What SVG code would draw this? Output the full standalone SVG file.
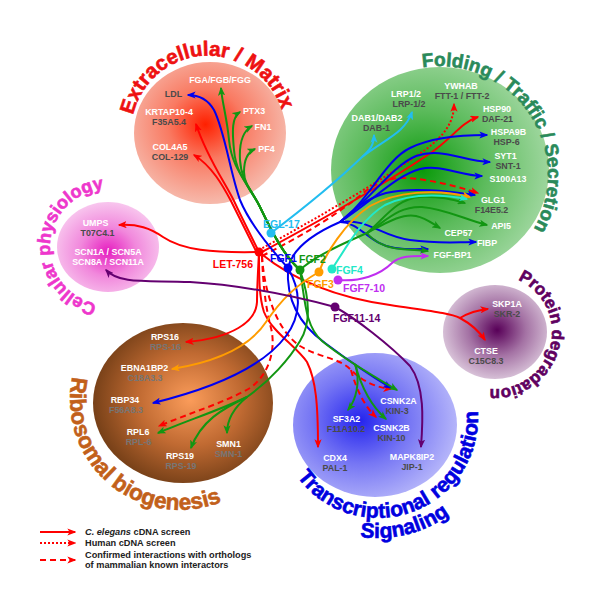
<svg xmlns="http://www.w3.org/2000/svg" width="600" height="600" viewBox="0 0 600 600">
<defs>
<style>
text{font-family:"Liberation Sans",Arial,sans-serif;font-weight:bold}
.t{font-size:8.9px;text-anchor:middle}
.w{fill:#ffffff}
.g{fill:#4a4a4a}
.gb{fill:#767676}
.hub{font-size:10.5px}
.ttl{text-anchor:middle;stroke-width:0.6}
.c{fill:none;stroke-width:2;stroke-linecap:butt}
.r{stroke:#ff0000}
.b{stroke:#0000f0}
.gr{stroke:#129612}
.o{stroke:#ff9c00}
.cy{stroke:#22bdf0}
.tq{stroke:#22e8c8}
.mg{stroke:#c02ef0}
.pu{stroke:#640070}
.dot{stroke-dasharray:2 2}
.dash{stroke-dasharray:6 4}
</style>
<marker id="mR" viewBox="0 0 10 8" refX="8.5" refY="4" markerWidth="9" markerHeight="7.2" orient="auto" markerUnits="userSpaceOnUse"><path d="M0,0L10,4L0,8L2.5,4z" fill="#ff0000"/></marker>
<marker id="mB" viewBox="0 0 10 8" refX="8.5" refY="4" markerWidth="9" markerHeight="7.2" orient="auto" markerUnits="userSpaceOnUse"><path d="M0,0L10,4L0,8L2.5,4z" fill="#0000f0"/></marker>
<marker id="mG" viewBox="0 0 10 8" refX="8.5" refY="4" markerWidth="9" markerHeight="7.2" orient="auto" markerUnits="userSpaceOnUse"><path d="M0,0L10,4L0,8L2.5,4z" fill="#129612"/></marker>
<marker id="mO" viewBox="0 0 10 8" refX="8.5" refY="4" markerWidth="9" markerHeight="7.2" orient="auto" markerUnits="userSpaceOnUse"><path d="M0,0L10,4L0,8L2.5,4z" fill="#ff9c00"/></marker>
<marker id="mC" viewBox="0 0 10 8" refX="8.5" refY="4" markerWidth="9" markerHeight="7.2" orient="auto" markerUnits="userSpaceOnUse"><path d="M0,0L10,4L0,8L2.5,4z" fill="#22bdf0"/></marker>
<marker id="mT" viewBox="0 0 10 8" refX="8.5" refY="4" markerWidth="9" markerHeight="7.2" orient="auto" markerUnits="userSpaceOnUse"><path d="M0,0L10,4L0,8L2.5,4z" fill="#22e8c8"/></marker>
<marker id="mM" viewBox="0 0 10 8" refX="8.5" refY="4" markerWidth="9" markerHeight="7.2" orient="auto" markerUnits="userSpaceOnUse"><path d="M0,0L10,4L0,8L2.5,4z" fill="#c02ef0"/></marker>
<marker id="mP" viewBox="0 0 10 8" refX="8.5" refY="4" markerWidth="9" markerHeight="7.2" orient="auto" markerUnits="userSpaceOnUse"><path d="M0,0L10,4L0,8L2.5,4z" fill="#640070"/></marker>
<radialGradient id="gEx" cx="0.47" cy="0.44" r="0.55"><stop offset="0" stop-color="#ff2000"/><stop offset="0.45" stop-color="#f97a62"/><stop offset="1" stop-color="#f6b8aa"/></radialGradient>
<radialGradient id="gFo" cx="0.42" cy="0.5" r="0.58"><stop offset="0" stop-color="#0a9a0a"/><stop offset="0.5" stop-color="#5cbb5c"/><stop offset="1" stop-color="#9dd69d"/></radialGradient>
<radialGradient id="gCe" cx="0.5" cy="0.55" r="0.55"><stop offset="0" stop-color="#e61ec0"/><stop offset="0.5" stop-color="#f188dc"/><stop offset="1" stop-color="#f8c6ee"/></radialGradient>
<radialGradient id="gRi" cx="0.54" cy="0.48" r="0.58"><stop offset="0" stop-color="#fb9c5a"/><stop offset="0.5" stop-color="#c06a32"/><stop offset="1" stop-color="#6c3a14"/></radialGradient>
<radialGradient id="gTr" cx="0.41" cy="0.47" r="0.6"><stop offset="0" stop-color="#2424ee"/><stop offset="0.5" stop-color="#7676f4"/><stop offset="1" stop-color="#b6b6fa"/></radialGradient>
<radialGradient id="gPr" cx="0.52" cy="0.48" r="0.55"><stop offset="0" stop-color="#580058"/><stop offset="0.5" stop-color="#a472a4"/><stop offset="1" stop-color="#dcc8dc"/></radialGradient>
<path id="pEx" d="M131.05,134.69 A77,77 0 0 1 284.95,129.31"/>
<path id="pFo" d="M369.7,90.9 A109,109 0 1 1 492.7,269.9"/>
<path id="pCe" d="M104.5,304.9 A58,58 0 0 1 111.5,189.1"/>
<path id="pPr" d="M509.3,276.8 A57,57 0 0 1 480.7,387.2"/>
<path id="pRi" d="M102.2,322.2 A110,110 0 1 0 270.1,463.1"/>
<path id="pTr" d="M279.5,435.4 A100,100 0 1 0 464.6,368"/>
<path id="pSi" d="M258.3,426.4 A120,120 0 1 0 487.6,369.2"/>
</defs>
<rect width="600" height="600" fill="#ffffff"/>

<g id="cat-extracellular">
<ellipse cx="210" cy="133" rx="76" ry="71" fill="url(#gEx)"/>
<text class="ttl" font-size="20.5" fill="#ee1111" stroke="#ee1111"><textPath href="#pEx" startOffset="50%">Extracellular / Matrix</textPath></text>
</g>
<g id="cat-folding">
<ellipse cx="440" cy="170" rx="109" ry="103" fill="url(#gFo)"/>
<text class="ttl" font-size="19" fill="#2a8a5a" stroke="#2a8a5a"><textPath href="#pFo" startOffset="50%">Folding / Traffic / Secretion</textPath></text>
</g>
<g id="cat-cellular">
<ellipse cx="108" cy="247" rx="51" ry="45" fill="url(#gCe)"/>
<text class="ttl" font-size="18" fill="#ee36cc" stroke="#ee36cc"><textPath href="#pCe" startOffset="50%">Cellular physiology</textPath></text>
</g>
<g id="cat-protein">
<ellipse cx="495" cy="332" rx="52" ry="47" fill="url(#gPr)"/>
<text class="ttl" font-size="17" fill="#600060" stroke="#600060"><textPath href="#pPr" startOffset="50%">Protein degradation</textPath></text>
</g>
<g id="cat-ribosomal">
<ellipse cx="183" cy="403" rx="90" ry="80" fill="url(#gRi)"/>
<text class="ttl" font-size="22.5" fill="#c2601a" stroke="#c2601a"><textPath href="#pRi" startOffset="50%">Ribosomal biogenesis</textPath></text>
</g>
<g id="cat-transcriptional">
<ellipse cx="375" cy="425" rx="82" ry="72" fill="url(#gTr)"/>
<text class="ttl" font-size="21" fill="#0000e0" stroke="#0000e0"><textPath href="#pTr" startOffset="50%">Transcriptional regulation</textPath></text>
<text class="ttl" font-size="21" fill="#0000e0" stroke="#0000e0"><textPath href="#pSi" startOffset="50%">Signaling</textPath></text>
</g>

<g id="connectors" class="c">
<!-- LET-756 -->
<path class="r" d="M259,252 C212,253 182,250 163,237 C150,228 138,224 119,225" marker-end="url(#mR)"/>
<path class="r" d="M259,252 C250,234 241,216 234,201 C226,184 207,158 196,124" marker-end="url(#mR)"/>
<path class="r" d="M257,253 C248,235 239,217 231,201 C223,186 212,166 194,155" marker-end="url(#mR)"/>
<path class="r dot" d="M259,250 C310,222 380,182 425,150 C445,135 454,122 454,104" marker-end="url(#mR)"/>
<path class="r" d="M260,253 C312,225 388,182 432,152 C452,138 462,122 478,117" marker-end="url(#mR)"/>
<path class="r dash" d="M262,256 C302,236 338,214 362,194 C376,182 392,177 408,178 C432,180 456,186 478,193" marker-end="url(#mR)"/>
<path class="r" d="M259,252 C258,272 257,288 257,302 C256,322 232,338 186,342" marker-end="url(#mR)"/>
<path class="r" d="M259,252 C259,277 259,297 264,312 C272,332 296,346 307,362 C316,380 318,405 318,447" marker-end="url(#mR)"/>
<path class="r dash" d="M262,256 C263,282 265,305 271,328 C276,348 270,374 250,388 C226,402 190,413 159,426" marker-end="url(#mR)"/>
<path class="r dash" d="M262,256 C264,290 276,330 300,346 C320,358 340,358 351,370 C363,382 378,388 391,389" marker-end="url(#mR)"/>
<path class="r dash" d="M351,370 C357,392 366,408 376,417" marker-end="url(#mR)"/>
<path class="r" d="M259,252 C290,278 332,297 390,305 C430,311 450,313 460,318 C470,312 478,310 488,309" marker-end="url(#mR)"/>
<path class="r" d="M460,318 C471,324 479,331 485,340" marker-end="url(#mR)"/>
<!-- EGL-17 -->
<path class="cy" d="M271,233 C300,211 335,183 362,157 C370,150 374,145 374,135" marker-end="url(#mC)"/>
<path class="cy" d="M362,157 C385,139 405,133 412,112" marker-end="url(#mC)"/>
<!-- FGF1 -->
<path class="b" d="M288,268 C268,246 249,222 240,200 C230,172 225,132 214,110 C207,98 198,95 188,95" marker-end="url(#mB)"/>
<path class="b" d="M288,268 C292,250 310,235 340,222 C368,202 385,160 410,148 C430,138 455,135 487,135" marker-end="url(#mB)"/>
<path class="b" d="M340,222 C372,198 392,166 416,156 C442,147 462,161 490,162" marker-end="url(#mB)"/>
<path class="b" d="M340,222 C374,200 395,176 420,169 C442,164 460,176 482,176" marker-end="url(#mB)"/>
<path class="b" d="M340,222 C355,208 368,198 386,193 C412,187 446,191 475,195" marker-end="url(#mB)"/>
<path class="b" d="M340,222 C368,218 380,236 410,240 C440,244 455,242 476,242" marker-end="url(#mB)"/>
<path class="b" d="M340,222 C360,222 370,245 395,248 C410,250 418,249 428,249" marker-end="url(#mB)"/>
<path class="b" d="M288,268 C302,292 301,316 286,336 C266,363 222,386 153,403" marker-end="url(#mB)"/>
<path class="b" d="M288,268 C286,300 300,325 325,343 C345,358 366,373 391,388" marker-end="url(#mB)"/>
<!-- FGF2 -->
<path class="gr" d="M300,270 C284,256 272,232 260,207 C248,182 232,170 229,140 C227,118 222,102 221,88" marker-end="url(#mG)"/>
<path class="gr" d="M300,270 C284,256 272,232 260,207 C250,187 236,175 234,150 C232,130 232,117 240,112" marker-end="url(#mG)"/>
<path class="gr" d="M300,270 C284,256 272,232 260,207 C253,192 241,181 240,160 C239,142 243,131 252,126" marker-end="url(#mG)"/>
<path class="gr" d="M300,270 C284,256 272,232 260,207 C255,196 244,186 244,172 C244,160 248,152 255,149" marker-end="url(#mG)"/>
<path class="gr" d="M300,270 C315,256 340,245 367,233 C385,218 396,199 420,197 C440,196 455,200 465,203" marker-end="url(#mG)"/>
<path class="gr" d="M367,233 C386,221 398,206 422,207 C446,209 466,220 487,225" marker-end="url(#mG)"/>
<path class="gr" d="M367,233 C386,223 402,213 416,216 C426,218 433,224 440,228" marker-end="url(#mG)"/>
<path class="gr" d="M367,233 C373,241 386,248 401,249 C411,250 420,250 428,251" marker-end="url(#mG)"/>
<path class="gr" d="M300,270 C309,296 312,322 300,341 C290,358 270,381 247,397 C220,410 186,421 158,433" marker-end="url(#mG)"/>
<path class="gr" d="M247,397 C222,409 201,421 191,448" marker-end="url(#mG)"/>
<path class="gr" d="M247,397 C236,406 227,418 227,433" marker-end="url(#mG)"/>
<path class="gr" d="M300,270 C305,300 305,326 322,341 C340,356 366,372 397,390" marker-end="url(#mG)"/>
<path class="gr" d="M355,364 C361,381 356,400 348,410" marker-end="url(#mG)"/>
<path class="gr" d="M355,364 C361,386 371,406 386,419" marker-end="url(#mG)"/>
<!-- FGF3 -->
<path class="o" d="M319,272 C325,255 345,222 370,206 C395,192 435,188 470,197" marker-end="url(#mO)"/>
<path class="o" d="M319,272 C296,285 281,300 266,322 C249,348 215,362 172,369" marker-end="url(#mO)"/>
<!-- FGF4 -->
<path class="tq" d="M332,269 C345,250 360,220 385,205 C410,193 440,194 467,199" marker-end="url(#mT)"/>
<!-- FGF7-10 -->
<path class="mg" d="M338,280 C360,282 380,275 392,263 C400,255 415,256 428,256" marker-end="url(#mM)"/>
<!-- FGF11-14 -->
<path class="pu" d="M335,307 C290,295 240,285 190,282 C150,280 120,285 106,270" marker-end="url(#mP)"/>
<path class="pu" d="M335,307 C355,318 390,345 410,366 C425,386 423,420 421,447" marker-end="url(#mP)"/>
</g>

<!-- hub nodes -->
<g id="hub-LET-756"><circle cx="259" cy="252" r="4.5" fill="#ff0000"/><text class="hub" x="253" y="268" text-anchor="end" fill="#ff0000">LET-756</text></g>
<g id="hub-EGL-17"><circle cx="271" cy="233" r="4.5" fill="#22bdf0"/><text class="hub" x="263" y="228" fill="#22bdf0">EGL-17</text></g>
<g id="hub-FGF1"><circle cx="288" cy="268" r="4.5" fill="#0000f0"/><text class="hub" x="270" y="262" fill="#0000f0">FGF1</text></g>
<g id="hub-FGF2"><circle cx="300" cy="270" r="4.5" fill="#129612"/><text class="hub" x="299" y="263" fill="#129612">FGF2</text></g>
<g id="hub-FGF3"><circle cx="319" cy="272" r="4.5" fill="#ff9c00"/><text class="hub" x="307" y="288" fill="#ff9c00">FGF3</text></g>
<g id="hub-FGF4"><circle cx="332" cy="269" r="4.5" fill="#22e8c8"/><text class="hub" x="336" y="273.5" fill="#22e8c8">FGF4</text></g>
<g id="hub-FGF7-10"><circle cx="338" cy="280" r="4.5" fill="#c02ef0"/><text class="hub" x="343" y="292" fill="#c02ef0">FGF7-10</text></g>
<g id="hub-FGF11-14"><circle cx="335" cy="307" r="4.5" fill="#640070"/><text class="hub" x="333" y="322" fill="#640070">FGF11-14</text></g>

<!-- target nodes -->
<g id="n-FGA"><text class="t w" x="220" y="83">FGA/FGB/FGG</text></g>
<g id="n-LDL"><text class="t g" x="173.5" y="97">LDL</text></g>
<g id="n-PTX3"><text class="t w" x="254" y="114">PTX3</text></g>
<g id="n-KRTAP10-4"><text class="t w" x="169" y="115">KRTAP10-4</text><text class="t g" x="169" y="125">F35A5.4</text></g>
<g id="n-FN1"><text class="t w" x="263" y="130">FN1</text></g>
<g id="n-COL4A5"><text class="t w" x="170" y="149.5">COL4A5</text><text class="t g" x="170" y="159.5">COL-129</text></g>
<g id="n-PF4"><text class="t w" x="266.5" y="151.5">PF4</text></g>

<g id="n-YWHAB"><text class="t w" x="461" y="88.5">YWHAB</text><text class="t g" x="462" y="98.5">FTT-1 / FTT-2</text></g>
<g id="n-LRP"><text class="t w" x="406" y="96.5">LRP1/2</text><text class="t g" x="409" y="106.5">LRP-1/2</text></g>
<g id="n-HSP90"><text class="t w" x="497" y="111.5">HSP90</text><text class="t g" x="497.5" y="121.5">DAF-21</text></g>
<g id="n-DAB"><text class="t w" x="377" y="120.5">DAB1/DAB2</text><text class="t g" x="376.5" y="130.5">DAB-1</text></g>
<g id="n-HSPA9B"><text class="t w" x="508.5" y="134.5">HSPA9B</text><text class="t g" x="506.5" y="144.5">HSP-6</text></g>
<g id="n-SYT1"><text class="t w" x="505.5" y="159">SYT1</text><text class="t g" x="508" y="169">SNT-1</text></g>
<g id="n-S100A13"><text class="t w" x="508" y="181.5">S100A13</text></g>
<g id="n-GLG1"><text class="t w" x="493" y="202.5">GLG1</text><text class="t g" x="491.5" y="212.5">F14E5.2</text></g>
<g id="n-API5"><text class="t w" x="501" y="229">API5</text></g>
<g id="n-CEP57"><text class="t w" x="458.5" y="236">CEP57</text></g>
<g id="n-FIBP"><text class="t w" x="487" y="246">FIBP</text></g>
<g id="n-FGF-BP1"><text class="t w" x="452.5" y="257.5">FGF-BP1</text></g>

<g id="n-SKP1A"><text class="t w" x="507" y="306.5">SKP1A</text><text class="t g" x="507" y="316.5">SKR-2</text></g>
<g id="n-CTSE"><text class="t w" x="486" y="354">CTSE</text><text class="t g" x="486" y="364">C15C8.3</text></g>

<g id="n-CSNK2A"><text class="t w" x="398.5" y="403.5">CSNK2A</text><text class="t g" x="397" y="413.5">KIN-3</text></g>
<g id="n-SF3A2"><text class="t w" x="346.5" y="421.5">SF3A2</text><text class="t g" x="346" y="431.5">F11A10.2</text></g>
<g id="n-CSNK2B"><text class="t w" x="391.5" y="431">CSNK2B</text><text class="t g" x="391.5" y="441">KIN-10</text></g>
<g id="n-CDX4"><text class="t w" x="335" y="460.5">CDX4</text><text class="t g" x="335" y="470.5">PAL-1</text></g>
<g id="n-MAPK8IP2"><text class="t w" x="412" y="459.5">MAPK8IP2</text><text class="t g" x="412" y="469.5">JIP-1</text></g>

<g id="n-RPS16"><text class="t w" x="165" y="340">RPS16</text><text class="t gb" x="165.5" y="350">RPS-16</text></g>
<g id="n-EBNA1BP2"><text class="t w" x="144.5" y="371">EBNA1BP2</text><text class="t gb" x="145" y="381">C18A3.3</text></g>
<g id="n-RBP34"><text class="t w" x="125" y="403">RBP34</text><text class="t gb" x="126" y="413">F56A8.3</text></g>
<g id="n-RPL6"><text class="t w" x="138" y="435">RPL6</text><text class="t gb" x="138.5" y="445">RPL-6</text></g>
<g id="n-SMN1"><text class="t w" x="228.5" y="447">SMN1</text><text class="t gb" x="228.5" y="457">SMN-1</text></g>
<g id="n-RPS19"><text class="t w" x="180" y="459">RPS19</text><text class="t gb" x="181" y="469">RPS-19</text></g>

<g id="n-UMPS"><text class="t w" x="95.5" y="225.5">UMPS</text><text class="t g" x="97.5" y="235.5">T07C4.1</text></g>
<g id="n-SCN"><text class="t w" x="108" y="255">SCN1A / SCN5A</text><text class="t w" x="108" y="265">SCN8A / SCN11A</text></g>

<g id="legend">
<path class="c r" d="M40,532 L75,532" marker-end="url(#mR)"/>
<path class="c r dot" d="M40,543 L75,543" marker-end="url(#mR)"/>
<path class="c r dash" d="M40,560 L75,560" marker-end="url(#mR)"/>
<text x="85" y="535" font-size="9.2" fill="#222222"><tspan font-style="italic">C. elegans</tspan> cDNA screen</text>
<text x="85" y="546" font-size="9.2" fill="#222222">Human cDNA screen</text>
<text x="85" y="557.5" font-size="9.2" fill="#222222">Confirmed interactions with orthologs</text>
<text x="85" y="567.5" font-size="9.2" fill="#222222">of mammalian known interactors</text>
</g>
</svg>
